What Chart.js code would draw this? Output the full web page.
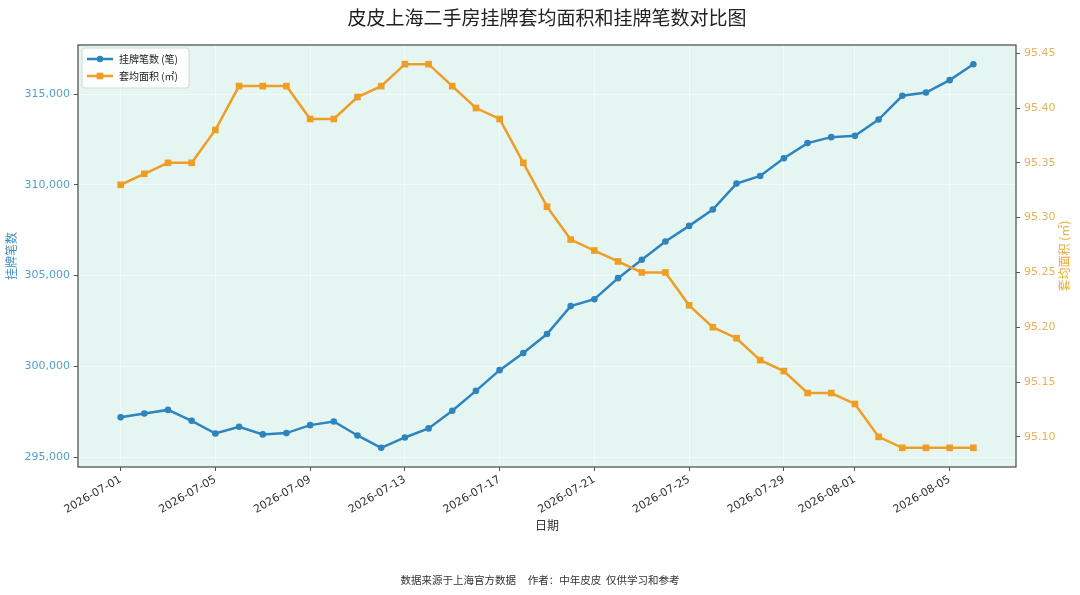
<!DOCTYPE html>
<html>
<head>
<meta charset="utf-8">
<script src="https://cdn.jsdelivr.net/npm/chart.js@4.4.1/dist/chart.umd.min.js"></script>
<style>
  html, body { margin: 0; padding: 0; background: #ffffff; }
  #wrap { width: 1080px; height: 595px; }
</style>
</head>
<body>
<div id="wrap"><canvas id="c" width="1080" height="595"></canvas></div>
<script>
// ---- data ----
const dates = [
  '2026-07-01','2026-07-02','2026-07-03','2026-07-04','2026-07-05','2026-07-06','2026-07-07',
  '2026-07-08','2026-07-09','2026-07-10','2026-07-11','2026-07-12','2026-07-13','2026-07-14',
  '2026-07-15','2026-07-16','2026-07-17','2026-07-18','2026-07-19','2026-07-20','2026-07-21',
  '2026-07-22','2026-07-23','2026-07-24','2026-07-25','2026-07-26','2026-07-27','2026-07-28',
  '2026-07-29','2026-07-30','2026-07-31','2026-08-01','2026-08-02','2026-08-03','2026-08-04',
  '2026-08-05','2026-08-06'
];
const listings = [
  297190, 297400, 297600, 297000, 296300, 296670, 296250, 296320, 296760, 296960,
  296190, 295510, 296080, 296580, 297550, 298650, 299790, 300730, 301780, 303320,
  303700, 304860, 305870, 306880, 307740, 308640, 310070, 310490, 311470, 312300,
  312630, 312700, 313600, 314910, 315090, 315770, 316650
];
const avgArea = [
  95.33, 95.34, 95.35, 95.35, 95.38, 95.42, 95.42, 95.42, 95.39, 95.39,
  95.41, 95.42, 95.44, 95.44, 95.42, 95.40, 95.39, 95.35, 95.31, 95.28,
  95.27, 95.26, 95.25, 95.25, 95.22, 95.20, 95.19, 95.17, 95.16, 95.14,
  95.14, 95.13, 95.10, 95.09, 95.09, 95.09, 95.09
];
const xTickLabels = ['2026-07-01','2026-07-05','2026-07-09','2026-07-13','2026-07-17',
  '2026-07-21','2026-07-25','2026-07-29','2026-08-01','2026-08-05'];
const leftTicks = [295000, 300000, 305000, 310000, 315000];
const rightTicks = [95.10, 95.15, 95.20, 95.25, 95.30, 95.35, 95.40, 95.45];

const titleText = '皮皮上海二手房挂牌套均面积和挂牌笔数对比图';
const footerText = '数据来源于上海官方数据     作者：中年皮皮  仅供学习和参考';
const seriesNames = ['挂牌笔数 (笔)', '套均面积 (㎡)'];
const leftAxisTitle = '挂牌笔数';
const rightAxisTitle = '套均面积 (㎡)';
const xAxisTitle = '日期';

// ---- helpers ----
const dayMs = 86400000;
function dayIndex(s) {
  const p = s.split('-').map(Number);
  const p0 = dates[0].split('-').map(Number);
  return Math.round((Date.UTC(p[0], p[1]-1, p[2]) - Date.UTC(p0[0], p0[1]-1, p0[2])) / dayMs);
}
const xs = dates.map(dayIndex);
const xTickPos = xTickLabels.map(dayIndex);
const labelByPos = {};
xTickLabels.forEach((l, i) => { labelByPos[xTickPos[i]] = l; });

const BLUE = '#2e84bd';
const ORANGE = '#ee9d25';
const FONT = "'DejaVu Sans', 'Noto Sans CJK SC', sans-serif";
const CJK = "'Noto Sans CJK SC', 'DejaVu Sans', sans-serif";

const nMin = Math.min(...xs), nMax = Math.max(...xs);
const xPad = (nMax - nMin) * 0.05;
const lMin = Math.min(...listings), lMax = Math.max(...listings);
const lPad = (lMax - lMin) * 0.05;
const aMin = Math.min(...avgArea), aMax = Math.max(...avgArea);
const aPad = (aMax - aMin) * 0.05;

const decor = {
  id: 'decor',
  beforeDraw(chart) {
    const { ctx, chartArea: a } = chart;
    ctx.save();
    ctx.fillStyle = '#e5f6f2';
    ctx.fillRect(a.left, a.top, a.right - a.left, a.bottom - a.top);
    ctx.restore();
  },
  afterDraw(chart) {
    const { ctx, chartArea: a } = chart;
    ctx.save();
    // frame
    ctx.strokeStyle = '#555555';
    ctx.lineWidth = 1.3;
    ctx.strokeRect(a.left, a.top, a.right - a.left, a.bottom - a.top);
    // title
    ctx.fillStyle = '#222222';
    ctx.font = "19px " + CJK;
    ctx.textAlign = 'center';
    ctx.textBaseline = 'middle';
    ctx.fillText(titleText, (a.left + a.right) / 2, 18);
    // footer
    ctx.font = "10.5px " + CJK;
    ctx.fillStyle = '#333333';
    ctx.fillText(footerText, 540, 580);
    // right axis title
    ctx.save();
    ctx.translate(1064, (a.top + a.bottom) / 2);
    ctx.rotate(-Math.PI / 2);
    ctx.fillStyle = '#e8a93a';
    ctx.font = "12px " + CJK;
    ctx.fillText(rightAxisTitle, 0, 0);
    ctx.restore();
    // legend
    const lx = a.left + 4, ly = a.top + 3, lw = 107, lh = 40;
    ctx.fillStyle = 'rgba(255,255,255,0.85)';
    ctx.strokeStyle = '#d8d8d8';
    ctx.lineWidth = 1;
    ctx.beginPath();
    ctx.roundRect(lx, ly, lw, lh, 3);
    ctx.fill();
    ctx.stroke();
    const items = [
      { c: BLUE, shape: 'circle', t: seriesNames[0] },
      { c: ORANGE, shape: 'rect', t: seriesNames[1] }
    ];
    items.forEach((it, i) => {
      const y = ly + 11 + i * 17;
      ctx.strokeStyle = it.c;
      ctx.lineWidth = 2.5;
      ctx.beginPath();
      ctx.moveTo(lx + 5, y);
      ctx.lineTo(lx + 31, y);
      ctx.stroke();
      ctx.fillStyle = it.c;
      if (it.shape === 'circle') {
        ctx.beginPath(); ctx.arc(lx + 18, y, 3.2, 0, Math.PI * 2); ctx.fill();
      } else {
        ctx.fillRect(lx + 18 - 3.3, y - 3.3, 6.6, 6.6);
      }
      ctx.fillStyle = '#222222';
      ctx.font = "10px " + CJK;
      ctx.textAlign = 'left';
      ctx.fillText(it.t, lx + 37, y);
    });
    ctx.restore();
  }
};

const gridColor = 'rgba(255,255,255,0.55)';

new Chart(document.getElementById('c'), {
  type: 'line',
  data: {
    datasets: [
      {
        label: seriesNames[0],
        data: xs.map((x, i) => ({ x, y: listings[i] })),
        yAxisID: 'y',
        borderColor: BLUE,
        backgroundColor: BLUE,
        borderWidth: 2.5,
        pointStyle: 'circle',
        pointRadius: 3.3,
        pointBorderWidth: 0,
        tension: 0,
        order: 1
      },
      {
        label: seriesNames[1],
        data: xs.map((x, i) => ({ x, y: avgArea[i] })),
        yAxisID: 'y1',
        borderColor: ORANGE,
        backgroundColor: ORANGE,
        borderWidth: 2.5,
        pointStyle: 'rect',
        pointRadius: 4.7,
        pointBorderWidth: 0,
        tension: 0,
        order: 0
      }
    ]
  },
  options: {
    responsive: false,
    animation: false,
    devicePixelRatio: 1,
    layout: { padding: { top: 45, bottom: 58, left: 0, right: 0 } },
    plugins: { legend: { display: false }, tooltip: { enabled: false }, title: { display: false } },
    scales: {
      x: {
        type: 'linear',
        min: nMin - xPad,
        max: nMax + xPad,
        afterBuildTicks(s) { s.ticks = xTickPos.map(v => ({ value: v })); },
        afterFit(s) { s.height = 70; },
        ticks: {
          autoSkip: false,
          maxRotation: 30, minRotation: 30,
          color: '#333333',
          font: { family: FONT, size: 11 },
          padding: 2,
          callback: v => labelByPos[v] || ''
        },
        grid: { color: gridColor, lineWidth: 1, tickLength: 4, tickColor: '#555555', tickWidth: 1 },
        border: { display: false },
        title: { display: true, text: xAxisTitle, color: '#333333', font: { family: CJK, size: 12 }, padding: { top: 2, bottom: 4 } }
      },
      y: {
        type: 'linear',
        position: 'left',
        min: lMin - lPad,
        max: lMax + lPad,
        afterBuildTicks(s) { s.ticks = leftTicks.map(v => ({ value: v })); },
        afterFit(s) { s.width = 78; },
        ticks: {
          color: '#5a9cc6',
          font: { family: FONT, size: 11 },
          padding: 4,
          callback: v => Number(v).toLocaleString('en-US')
        },
        grid: { color: gridColor, lineWidth: 1, tickLength: 4, tickColor: '#555555', tickWidth: 1 },
        border: { display: false },
        title: { display: true, text: leftAxisTitle, color: '#3d8fc4', font: { family: CJK, size: 12 }, padding: 4 }
      },
      y1: {
        type: 'linear',
        position: 'right',
        min: aMin - aPad,
        max: aMax + aPad,
        afterBuildTicks(s) { s.ticks = rightTicks.map(v => ({ value: v })); },
        afterFit(s) { s.width = 64; },
        ticks: {
          color: '#e3b35c',
          font: { family: FONT, size: 11 },
          padding: 4,
          callback: v => Number(v).toFixed(2)
        },
        grid: { drawOnChartArea: false, tickLength: 4, tickColor: '#555555', tickWidth: 1 },
        border: { display: false }
      }
    }
  },
  plugins: [decor]
});
</script>
</body>
</html>
